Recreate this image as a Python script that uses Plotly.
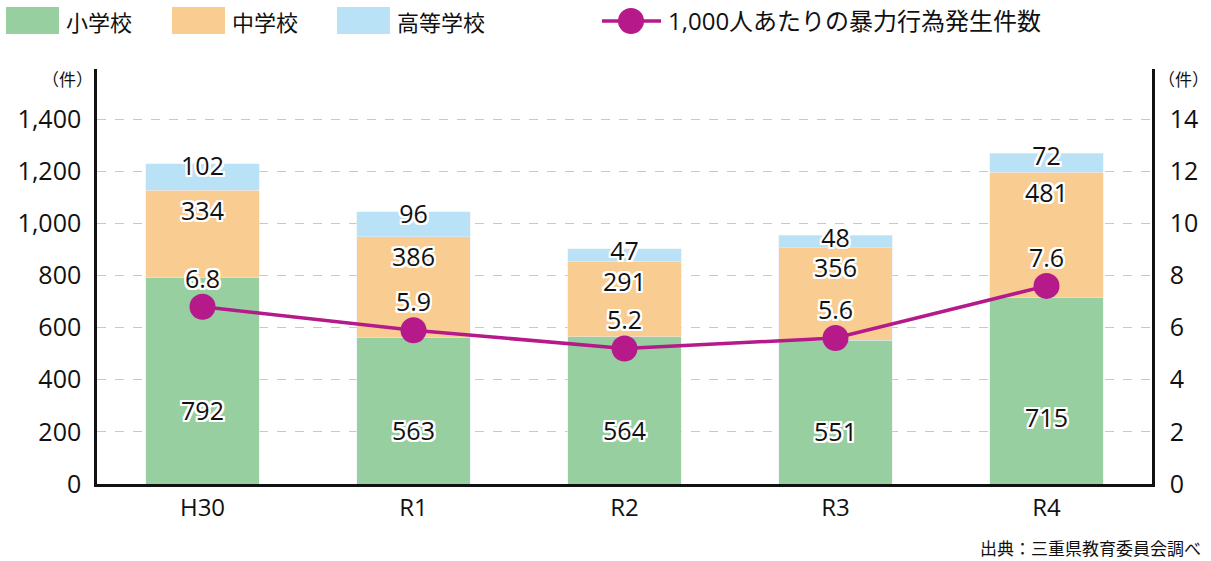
import plotly.graph_objects as go

categories = ["H30", "R1", "R2", "R3", "R4"]
elementary = [792, 563, 564, 551, 715]
junior_high = [334, 386, 291, 356, 481]
high_school = [102, 96, 47, 48, 72]
rate_per_1000 = [6.8, 5.9, 5.2, 5.6, 7.6]

left_ticks = [0, 200, 400, 600, 800, 1000, 1200, 1400]
right_ticks = [0, 2, 4, 6, 8, 10, 12, 14]

C_GREEN = "#98CFA0"
C_ORANGE = "#F9CD92"
C_BLUE = "#BAE2F7"
C_LINE = "#B5198A"
FONT = "Open Sans, Noto Sans CJK JP"
CJK = "Noto Sans CJK JP"

outline = ", ".join(f"{dx}px {dy}px 0 white" for dx in (-2, -1, 0, 1, 2) for dy in (-2, -1, 0, 1, 2) if (dx, dy) != (0, 0))
label_font = dict(family=FONT, size=25, color="#111111", shadow=outline)

fig = go.Figure()
fig.add_bar(x=categories, y=elementary, marker_color=C_GREEN, width=0.54, name="小学校")
fig.add_bar(x=categories, y=junior_high, marker_color=C_ORANGE, width=0.54, name="中学校")
fig.add_bar(x=categories, y=high_school, marker_color=C_BLUE, width=0.54, name="高等学校")

fig.add_scatter(x=categories, y=rate_per_1000, yaxis="y2", mode="lines+markers",
                line=dict(color=C_LINE, width=3.5),
                marker=dict(color=C_LINE, size=26), name="1,000人あたりの暴力行為発生件数")

# labels
mid_top = [a + b for a, b in zip(elementary, junior_high)]
totals = [a + b for a, b in zip(mid_top, high_school)]
fig.add_scatter(x=categories, y=[v * 0.34 for v in elementary], mode="text",
                text=[str(v) for v in elementary], textfont=label_font, hoverinfo="skip")
fig.add_scatter(x=categories, y=[t - 90 for t in mid_top], mode="text",
                text=[str(v) for v in junior_high], textfont=label_font, hoverinfo="skip")
fig.add_scatter(x=categories, y=[t - 20 for t in totals], mode="text",
                text=[str(v) for v in high_school], textfont=label_font, hoverinfo="skip")
fig.add_scatter(x=categories, y=[r + 0.97 for r in rate_per_1000], yaxis="y2", mode="text",
                text=[f"{r:.1f}" for r in rate_per_1000], textfont=label_font, hoverinfo="skip")

fig.update_layout(
    barmode="stack",
    width=1211, height=561,
    margin=dict(l=97, r=59, t=69, b=77),
    paper_bgcolor="white", plot_bgcolor="white",
    showlegend=False,
    font=dict(family=FONT, size=24, color="#111111"),
    xaxis=dict(showline=True, linecolor="#111111", linewidth=2.5, ticks="",
               tickfont=dict(size=24), showgrid=False),
    yaxis=dict(range=[0, 1592], tickvals=left_ticks,
               ticktext=[f"{v:,}" for v in left_ticks],
               showline=True, linecolor="#111111", linewidth=2.5,
               showgrid=True, gridcolor="#C8C8C8", griddash="dash", gridwidth=1,
               zeroline=False, ticks="", tickfont=dict(size=25), ticklabelstandoff=8),
    yaxis2=dict(range=[0, 15.92], tickvals=right_ticks, overlaying="y", side="right",
                showline=True, linecolor="#111111", linewidth=2.5, showgrid=False,
                zeroline=False, ticks="", tickfont=dict(size=25), ticklabelstandoff=10),
)

fig.add_annotation(text="（件）", xref="paper", yref="paper", x=-30 / 1055, y=(484 - 79) / 415,
                   xanchor="center", yanchor="middle", showarrow=False, font=dict(family=CJK, size=17))
fig.add_annotation(text="（件）", xref="paper", yref="paper", x=1 + 31 / 1055, y=(484 - 79) / 415,
                   xanchor="center", yanchor="middle", showarrow=False, font=dict(family=CJK, size=17))
fig.add_annotation(text="出典：三重県教育委員会調べ", xref="paper", yref="paper",
                   x=1 + 51 / 1055, y=-(547 - 484) / 415, xanchor="right", yanchor="middle",
                   showarrow=False, font=dict(family=CJK, size=17))

# custom legend (paper coordinates converted from pixel layout)
def px(xp):
    return (xp - 97) / 1055

def py(yp):
    return (484 - yp) / 415

legend_items = [("小学校", C_GREEN, 6), ("中学校", C_ORANGE, 172), ("高等学校", C_BLUE, 337)]
for label, color, x0 in legend_items:
    fig.add_shape(type="rect", xref="paper", yref="paper", x0=px(x0), x1=px(x0 + 53),
                  y0=py(34), y1=py(7), fillcolor=color, line_width=0)
    fig.add_annotation(text=label, xref="paper", yref="paper", x=px(x0 + 58), y=py(21),
                       xanchor="left", yanchor="middle", showarrow=False, font=dict(family=CJK, size=22))
fig.add_shape(type="line", xref="paper", yref="paper", x0=px(602), x1=px(661), y0=py(21), y1=py(21),
              line=dict(color=C_LINE, width=3.5))
fig.add_shape(type="circle", xref="paper", yref="paper", x0=px(618), x1=px(644), y0=py(34), y1=py(8),
              fillcolor=C_LINE, line_width=0)
fig.add_annotation(text="1,000人あたりの暴力行為発生件数", xref="paper", yref="paper", x=px(666), y=py(21),
                   xanchor="left", yanchor="middle", showarrow=False, font=dict(family=FONT, size=24))

fig.write_html("out.html", config={"displayModeBar": False},
               post_script="document.body.style.margin='0';")
